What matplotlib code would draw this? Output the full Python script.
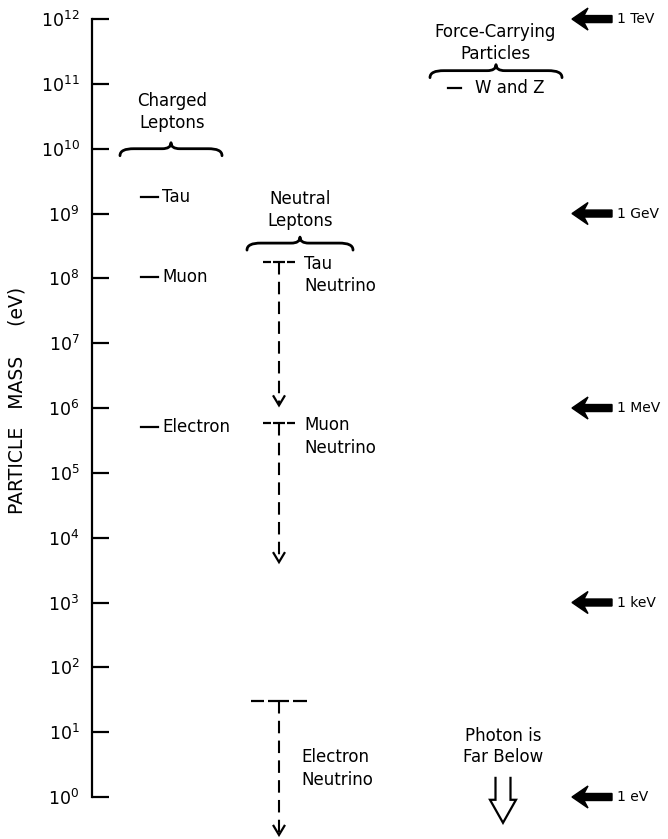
import numpy as np
import matplotlib
matplotlib.use('Agg')
import matplotlib.pyplot as plt
from matplotlib.path import Path
from matplotlib.patches import PathPatch
from matplotlib import transforms as mtransforms
from matplotlib.ticker import LogFormatterMathtext, FixedLocator, NullLocator

plt.rcParams['font.family'] = ['DejaVu Sans']

# 质量数据 (eV)
charged_names = ['Tau', 'Muon', 'Electron']
charged_mass = [1.78e9, 1.06e8, 5.11e5]

neutrino_names = ['Tau\nNeutrino', 'Muon\nNeutrino', 'Electron\nNeutrino']
neutrino_limit = [1.8e8, 5.8e5, 30]
neutrino_arrow_end = [1.1e6, 4.2e3, 0.26]

boson_name = 'W and Z'
boson_mass = 8.6e10

energy_labels = ['1 TeV', '1 GeV', '1 MeV', '1 keV', '1 eV']
energy_values = [1e12, 1e9, 1e6, 1e3, 1]

decades = list(range(0, 13))

M, L, C = Path.MOVETO, Path.LINETO, Path.CURVE4


def px_patch(ax, x, y, verts, codes, **kw):
    """在数据点 (x, y) 处画一个以像素为单位的形状"""
    trans = mtransforms.ScaledTranslation(x, y, ax.transData)
    patch = PathPatch(Path(verts, codes), transform=trans, **kw)
    ax.add_patch(patch)
    return patch


def brace(ax, xc, y, half):
    h = half
    verts = [(-h, -7), (-h, -2), (-h + 5, 0), (-h + 14, 0),
             (-9, 0), (-3, 0), (0, 2), (0, 6),
             (0, 2), (3, 0), (9, 0),
             (h - 14, 0), (h - 5, 0), (h, -2), (h, -7)]
    codes = [M, C, C, C, L, C, C, C, C, C, C, L, C, C, C]
    px_patch(ax, xc, y, verts, codes, fc='none', ec='black', lw=2.0,
             capstyle='round', joinstyle='round')


def solid_arrow(ax, x, y):
    verts = [(0, 0), (16, 11), (12, 3.5), (40, 3.5), (40, -3.5),
             (12, -3.5), (16, -11), (0, 0)]
    codes = [M] + [L] * 6 + [Path.CLOSEPOLY]
    px_patch(ax, x, y, verts, codes, fc='black', ec='black', lw=1.0)


def chevron(ax, x, y):
    verts = [(-6, 10), (0, 0), (6, 10)]
    px_patch(ax, x, y, verts, [M, L, L], fc='none', ec='black', lw=1.6,
             joinstyle='miter')


fig = plt.figure(figsize=(6.68, 8.39), dpi=100)
ax = fig.add_axes([0, 0, 1, 1])
ax.set_xlim(0, 668)
ax.set_yscale('log')
ax.set_ylim(10 ** -0.648, 10 ** 12.294)

# 坐标轴
for s in ['top', 'right', 'bottom']:
    ax.spines[s].set_visible(False)
ax.spines['left'].set_position(('data', 92))
ax.spines['left'].set_bounds(1, 1e12)
ax.spines['left'].set_linewidth(1.6)
ax.xaxis.set_visible(False)
ax.yaxis.set_major_locator(FixedLocator([10.0 ** k for k in decades]))
ax.yaxis.set_minor_locator(NullLocator())
ax.yaxis.set_major_formatter(LogFormatterMathtext())
ax.tick_params(axis='y', direction='in', length=12, width=1.6, pad=9,
               labelsize=12.5)
ax.set_ylabel('PARTICLE   MASS     (eV)', fontsize=13.5)
ax.yaxis.set_label_coords(27 / 668, 1 - 400 / 839)

# 带电轻子
ax.text(172, 3.7e10, 'Charged\nLeptons', ha='center', va='center',
        fontsize=12, linespacing=1.25)
brace(ax, 171, 1e10, 51)
for name, m in zip(charged_names, charged_mass):
    ax.plot([141, 158], [m, m], color='black', lw=1.6)
    ax.text(162, m, name, va='center', fontsize=12)

# 中性轻子
ax.text(300, 1.13e9, 'Neutral\nLeptons', ha='center', va='center',
        fontsize=12, linespacing=1.25)
brace(ax, 300, 3.5e8, 53)
xn = 279
bars = [[(-16, -8), (-6, 6), (8, 16)],
        [(-16, -8), (-6, 6), (8, 16)],
        [(-28, -15), (-11, 10), (14, 28)]]
label_off = [(18, 5), (18, 5), (16, -34)]
for name, lim, end, bar, off in zip(neutrino_names, neutrino_limit,
                                    neutrino_arrow_end, bars, label_off):
    for a, b in bar:
        ax.plot([xn + a, xn + b], [lim, lim], color='black', lw=1.6,
                solid_capstyle='butt')
    ax.plot([xn, xn], [lim, end], color='black', lw=1.5,
            linestyle=(0, (6, 3.5)))
    chevron(ax, xn, end)
    ax.annotate(name, xy=(xn, lim), xytext=off, textcoords='offset points',
                ha='left', va='top', fontsize=12, linespacing=1.3)

# 传递力的粒子
ax.text(495, 4.3e11, 'Force-Carrying\nParticles', ha='center', va='center',
        fontsize=12, linespacing=1.25)
brace(ax, 496, 1.6e11, 66)
ax.plot([448, 461], [boson_mass, boson_mass], color='black', lw=1.6)
ax.text(475, boson_mass, boson_name, va='center', fontsize=12)

# 光子
ax.text(503, 6.0, 'Photon is\nFar Below', ha='center', va='center',
        fontsize=12, linespacing=1.25)
hollow = [(-7.5, 46), (-7.5, 23), (-13, 23), (0, 0), (13, 23), (7.5, 23),
          (7.5, 46)]
px_patch(ax, 503, 0.4, hollow, [M] + [L] * 6, fc='none', ec='black', lw=1.6)

# 右侧能量标尺
for lab, v in zip(energy_labels, energy_values):
    solid_arrow(ax, 572, v)
    ax.text(617, v, lab, va='center', fontsize=10)

fig.savefig('out.png', dpi=100)
